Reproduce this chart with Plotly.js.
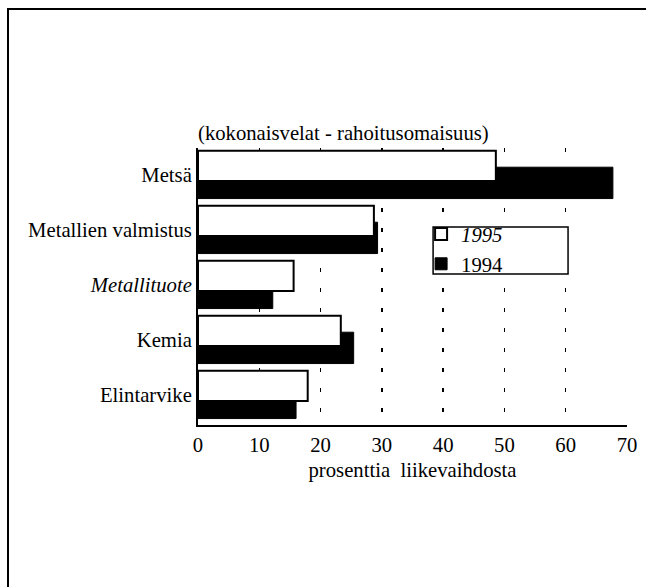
<!DOCTYPE html>
<html>
<head>
<meta charset="utf-8">
<script src="https://cdn.plot.ly/plotly-3.0.1.min.js"></script>
<style>
  html, body { margin: 0; padding: 0; background: #fff; overflow: hidden; }
  #chart { width: 646px; height: 587px; }
</style>
</head>
<body>
<div id="chart"></div>
<script>
const categories = ["Metsä", "Metallien valmistus", "Metallituote", "Kemia", "Elintarvike"];
const categoryLabels = ["Metsä", "Metallien valmistus", "<i>Metallituote</i>", "Kemia", "Elintarvike"];
const values1995 = [48.6, 28.7, 15.6, 23.3, 17.9];
const values1994 = [67.7, 29.3, 12.2, 25.4, 16.0];
const xTicks = [0, 10, 20, 30, 40, 50, 60, 70];
const titleText = "(kokonaisvelat - rahoitusomaisuus)";
const xTitleText = "prosenttia&nbsp;&nbsp;liikevaihdosta";

const FONT = "Liberation Serif";
const FS = 20.7;

const t1994 = {
  type: "bar", orientation: "h", name: "1994",
  x: values1994, y: categories,
  width: 0.57, offset: -0.14,
  marker: { color: "#000", line: { color: "#000", width: 1 } }
};
const t1995 = {
  type: "bar", orientation: "h", name: "<i>1995</i>",
  x: values1995, y: categories,
  width: 0.55, offset: -0.44,
  marker: { color: "#fff", line: { color: "#000", width: 2 } }
};

// page frame (top and left edges only), in paper units of the 429x277 plot area
const W = 429, H = 277, L = 198, B = 425;
const fx = px => (px - L) / W;
const fy = py => (B - py) / H;

const layout = {
  width: 646, height: 587,
  paper_bgcolor: "#fff", plot_bgcolor: "rgba(0,0,0,0)",
  margin: { l: 198, r: 19, t: 148, b: 162 },
  barmode: "overlay",
  font: { family: FONT, size: FS, color: "#000" },
  title: {
    text: titleText, font: { family: FONT, size: FS, color: "#000" },
    xref: "paper", x: 0, xanchor: "left",
    yref: "container", y: 1 - 133 / 587, yanchor: "middle"
  },
  xaxis: {
    range: [0, 70], tickvals: xTicks, ticktext: xTicks.map(String),
    showgrid: true, gridcolor: "#000", gridwidth: 1.5, griddash: "4px,16px",
    zeroline: false, showline: true, linecolor: "#000", linewidth: 2,
    ticks: "", ticklen: 0, ticklabelstandoff: 0,
    tickfont: { family: FONT, size: FS, color: "#000" },
    title: { text: xTitleText, font: { family: FONT, size: FS, color: "#000" }, standoff: 8 },
    fixedrange: true
  },
  yaxis: {
    type: "category", categoryorder: "array", categoryarray: categories,
    tickvals: categories, ticktext: categoryLabels,
    range: [4.547, -0.489],
    showgrid: false, zeroline: false, showline: true, linecolor: "#000", linewidth: 2,
    ticks: "", ticklen: 0, ticklabelstandoff: 0,
    tickfont: { family: FONT, size: FS, color: "#000" },
    fixedrange: true
  },
  shapes: [
    {
      type: "rect", xref: "paper", yref: "paper", layer: "above",
      x0: 0.548, x1: 0.8626, y0: 0.545, y1: 0.715,
      fillcolor: "#fff", line: { color: "#000", width: 1.5 }
    },
    {
      type: "line", xref: "paper", yref: "paper", layer: "above",
      x0: fx(7), x1: fx(660), y0: fy(9), y1: fy(9),
      line: { color: "#000", width: 2 }
    },
    {
      type: "line", xref: "paper", yref: "paper", layer: "above",
      x0: fx(8), x1: fx(8), y0: fy(8), y1: fy(600),
      line: { color: "#000", width: 2 }
    }
  ],
  showlegend: true,
  legend: {
    x: 0.52, y: 0.762, xanchor: "left", yanchor: "top",
    traceorder: "reversed",
    bgcolor: "rgba(0,0,0,0)", borderwidth: 0,
    font: { family: FONT, size: FS, color: "#000" },
    itemwidth: 30, tracegroupgap: 0
  }
};

Plotly.newPlot("chart", [t1994, t1995], layout, { displayModeBar: false, staticPlot: true });
</script>
</body>
</html>
